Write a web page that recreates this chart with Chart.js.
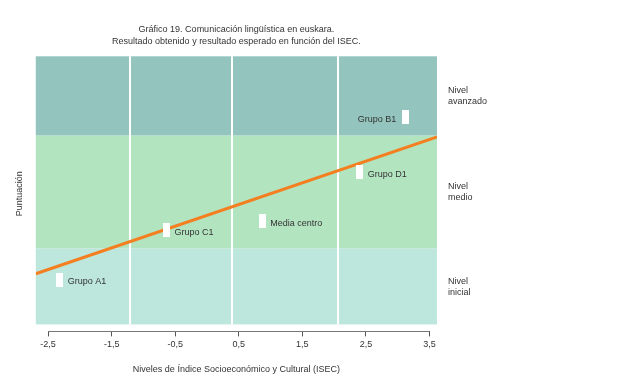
<!DOCTYPE html>
<html>
<head>
<meta charset="utf-8">
<script src="https://cdn.jsdelivr.net/npm/chart.js@4.4.1/dist/chart.umd.min.js"></script>
<style>
html,body{margin:0;padding:0;background:#fff;overflow:hidden;}
#wrap{width:617px;height:385px;}
canvas{display:block;}
</style>
</head>
<body>
<div id="wrap"><canvas id="c" width="617" height="385"></canvas></div>
<script>
// ---- data ----
const titleLines = ['Gráfico 19. Comunicación lingüística en euskara.', 'Resultado obtenido y resultado esperado en función del ISEC.'];
const xTitle = 'Niveles de Índice Socioeconómico y Cultural (ISEC)';
const yTitle = 'Puntuación';
const isecTicks = [-2.5, -1.5, -0.5, 0.5, 1.5, 2.5, 3.5];
const groupLabels = ['Grupo A1', 'Grupo C1', 'Media centro', 'Grupo D1', 'Grupo B1'];
const groupIsec = [-2.316, -0.637, 0.868, 2.401, 3.12];
const groupScore = [16.6, 35.1, 38.4, 56.7, 77.2];
const expectedIsec = [-2.693, 3.618];
const expectedScore = [18.9, 69.9];
const levelNames = [['Nivel', 'inicial'], ['Nivel', 'medio'], ['Nivel', 'avanzado']];
const levelBounds = [0, 28.4, 70.5, 100];
const quartileCuts = [-1.215, 0.396, 2.055];

// ---- style ----
const FONT = "'Liberation Sans', Arial, sans-serif";
const levelColors = ['#BDE6DC', '#B3E4C0', '#93C5BE'];
const labelLeftOf = ['Grupo B1'];

const marker = document.createElement('canvas');
marker.width = 7; marker.height = 14;
(function(){ const g = marker.getContext('2d'); g.fillStyle = '#ffffff'; g.fillRect(0, 0, 7, 14); })();

const bandsPlugin = {
  id: 'bands',
  beforeDatasetsDraw(chart) {
    const {ctx, chartArea, scales: {x, y}} = chart;
    ctx.save();
    for (let i = 0; i < levelColors.length; i++) {
      const yTop = y.getPixelForValue(levelBounds[i + 1]);
      const yBot = y.getPixelForValue(levelBounds[i]);
      ctx.fillStyle = levelColors[i];
      ctx.fillRect(chartArea.left, yTop, chartArea.right - chartArea.left, yBot - yTop);
    }
    ctx.strokeStyle = '#ffffff';
    ctx.lineWidth = 2;
    const top = y.getPixelForValue(levelBounds[levelBounds.length - 1]);
    const bot = y.getPixelForValue(levelBounds[0]);
    quartileCuts.forEach(v => {
      const px = Math.round(x.getPixelForValue(v));
      ctx.beginPath(); ctx.moveTo(px, top); ctx.lineTo(px, bot); ctx.stroke();
    });
    // axis line from first to last tick
    ctx.strokeStyle = '#777777';
    ctx.lineWidth = 1;
    const ay = Math.round(chartArea.bottom) + 0.5;
    ctx.beginPath();
    ctx.moveTo(x.getPixelForValue(isecTicks[0]), ay);
    ctx.lineTo(x.getPixelForValue(isecTicks[isecTicks.length - 1]), ay);
    ctx.stroke();
    // level labels
    ctx.fillStyle = '#333333';
    ctx.font = '9px ' + FONT;
    ctx.textBaseline = 'middle';
    ctx.textAlign = 'left';
    for (let i = 0; i < levelNames.length; i++) {
      const mid = (y.getPixelForValue(levelBounds[i]) + y.getPixelForValue(levelBounds[i + 1])) / 2;
      ctx.fillText(levelNames[i][0], chartArea.right + 11, mid - 5);
      ctx.fillText(levelNames[i][1], chartArea.right + 11, mid + 6);
    }
    ctx.restore();
  },
  afterDatasetsDraw(chart) {
    const {ctx} = chart;
    const meta = chart.getDatasetMeta(1);
    ctx.save();
    ctx.fillStyle = '#333333';
    ctx.font = '9px ' + FONT;
    ctx.textBaseline = 'middle';
    meta.data.forEach((pt, i) => {
      const lbl = groupLabels[i];
      if (labelLeftOf.includes(lbl)) {
        ctx.textAlign = 'right';
        ctx.fillText(lbl, pt.x - 9, pt.y + 2);
      } else {
        ctx.textAlign = 'left';
        ctx.fillText(lbl, pt.x + 8, pt.y + 2);
      }
    });
    ctx.restore();
  }
};

new Chart(document.getElementById('c'), {
  type: 'scatter',
  data: {
    datasets: [
      {
        label: 'Resultado esperado',
        data: expectedIsec.map((v, i) => ({x: v, y: expectedScore[i]})),
        showLine: true,
        borderColor: '#F47F20',
        borderWidth: 3,
        pointRadius: 0,
        order: 2
      },
      {
        label: 'Resultado obtenido',
        data: groupIsec.map((v, i) => ({x: v, y: groupScore[i]})),
        showLine: false,
        pointStyle: marker,
        pointRadius: 7,
        order: 1
      }
    ]
  },
  options: {
    responsive: false,
    animation: false,
    events: [],
    layout: {padding: {left: 3, right: 180, top: 0, bottom: 9}},
    plugins: {
      legend: {display: false},
      tooltip: {enabled: false},
      title: {
        display: true,
        fullSize: false,
        text: titleLines,
        color: '#333333',
        font: {family: FONT, size: 9, weight: 'normal', lineHeight: 1.35},
        padding: {top: 23, bottom: 9}
      }
    },
    scales: {
      x: {
        type: 'linear',
        min: expectedIsec[0],
        max: expectedIsec[1],
        afterBuildTicks: (s) => { s.ticks = isecTicks.map(v => ({value: v})); },
        ticks: {
          color: '#333333',
          font: {family: FONT, size: 9},
          padding: 3,
          maxRotation: 0,
          autoSkip: false,
          callback: (v) => String(v).replace('.', ',')
        },
        grid: {display: true, drawOnChartArea: false, drawTicks: true, tickLength: 5, color: '#555555', lineWidth: 1},
        border: {display: false},
        title: {display: true, text: xTitle, color: '#333333', font: {family: FONT, size: 9}, padding: {top: 11, bottom: 1}}
      },
      y: {
        type: 'linear',
        min: -2.61,
        max: 100,
        ticks: {display: false},
        grid: {display: false, drawTicks: false},
        border: {display: false},
        title: {display: true, text: yTitle, color: '#333333', font: {family: FONT, size: 9}, padding: {top: 11, bottom: 11}}
      }
    }
  },
  plugins: [bandsPlugin]
});
</script>
</body>
</html>
